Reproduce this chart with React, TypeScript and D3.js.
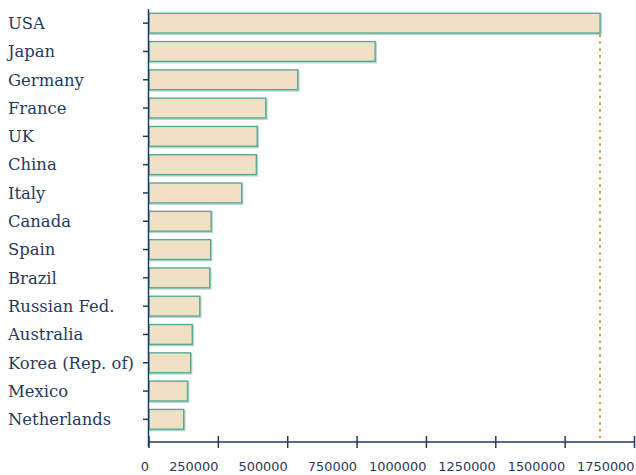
import React, { useEffect, useRef } from "react";
import * as d3 from "d3";

const countries = [
  "USA", "Japan", "Germany", "France", "UK", "China", "Italy", "Canada",
  "Spain", "Brazil", "Russian Fed.", "Australia", "Korea (Rep. of)", "Mexico", "Netherlands",
];
const values = [
  1626000, 815000, 536000, 421000, 390000, 387000, 334000, 224000,
  222000, 219000, 183000, 156000, 150000, 139000, 125000,
];
const xTicks = [0, 250000, 500000, 750000, 1000000, 1250000, 1500000, 1750000];

const W = 636, H = 475;
const NAVY = "#1f3b5f";

export default function App() {
  const ref = useRef<SVGSVGElement | null>(null);
  useEffect(() => {
    const svg = d3.select(ref.current);
    svg.selectAll("*").remove();
    const x = d3.scaleLinear().domain([0, 1750000]).range([149, 634.5]);
    const y = d3.scaleBand<string>().domain(countries).range([9, 433.5]).paddingInner(0.3).paddingOuter(0.15);
    const axisY = 442;

    const data = countries.map((c, i) => ({ c, v: values[i] }));

    // shadows
    svg.append("g").selectAll("rect").data(data).join("rect")
      .attr("x", x(0) + 1).attr("y", d => (y(d.c) as number) + 1.2)
      .attr("width", d => x(d.v) - x(0)).attr("height", y.bandwidth())
      .attr("fill", "none").attr("stroke", "#b3d8cd").attr("stroke-width", 1.6);
    // bars
    svg.append("g").selectAll("rect").data(data).join("rect")
      .attr("x", x(0)).attr("y", d => y(d.c) as number)
      .attr("width", d => x(d.v) - x(0)).attr("height", y.bandwidth())
      .attr("fill", "#f0e1c5").attr("stroke", "#5ba896").attr("stroke-width", 1.4);

    // dotted max line
    const maxV = d3.max(values) as number;
    const mx = Math.round(x(maxV));
    svg.append("line")
      .attr("x1", mx).attr("x2", mx)
      .attr("y1", (y(countries[0]) as number) + y.bandwidth() + 1.5).attr("y2", axisY - 4)
      .attr("stroke", "#d69e38").attr("stroke-width", 2).attr("stroke-dasharray", "2.5 4.3");

    // y axis
    svg.append("line").attr("x1", 148.5).attr("x2", 148.5).attr("y1", 9).attr("y2", axisY + 5)
      .attr("stroke", NAVY).attr("stroke-width", 1.5);
    const yg = svg.append("g");
    yg.selectAll("line").data(countries).join("line")
      .attr("x1", 143).attr("x2", 148.5)
      .attr("y1", d => (y(d) as number) + y.bandwidth() / 2)
      .attr("y2", d => (y(d) as number) + y.bandwidth() / 2)
      .attr("stroke", NAVY).attr("stroke-width", 1.5);
    yg.selectAll("text").data(countries).join("text")
      .attr("x", 8).attr("y", d => (y(d) as number) + y.bandwidth() / 2 + 5.8)
      .attr("font-family", "DejaVu Serif").attr("font-size", 16.4).attr("fill", NAVY)
      .text(d => d);

    // x axis
    svg.append("line").attr("x1", 148.5).attr("x2", 635).attr("y1", axisY).attr("y2", axisY)
      .attr("stroke", NAVY).attr("stroke-width", 1.5);
    const xg = svg.append("g");
    xg.selectAll("line").data(xTicks).join("line")
      .attr("x1", d => x(d)).attr("x2", d => x(d)).attr("y1", axisY - 6).attr("y2", axisY + 6)
      .attr("stroke", NAVY).attr("stroke-width", 1.5);
    xg.selectAll("text").data(xTicks).join("text")
      .attr("x", d => x(d)).attr("y", 471).attr("text-anchor", "end")
      .attr("font-family", "DejaVu Sans").attr("font-size", 12.9).attr("fill", NAVY)
      .text(d => String(d));
  }, []);
  return (
    <svg ref={ref} width={W} height={H} style={{ position: "absolute", left: 0, top: 0, background: "#fff" }} />
  );
}
